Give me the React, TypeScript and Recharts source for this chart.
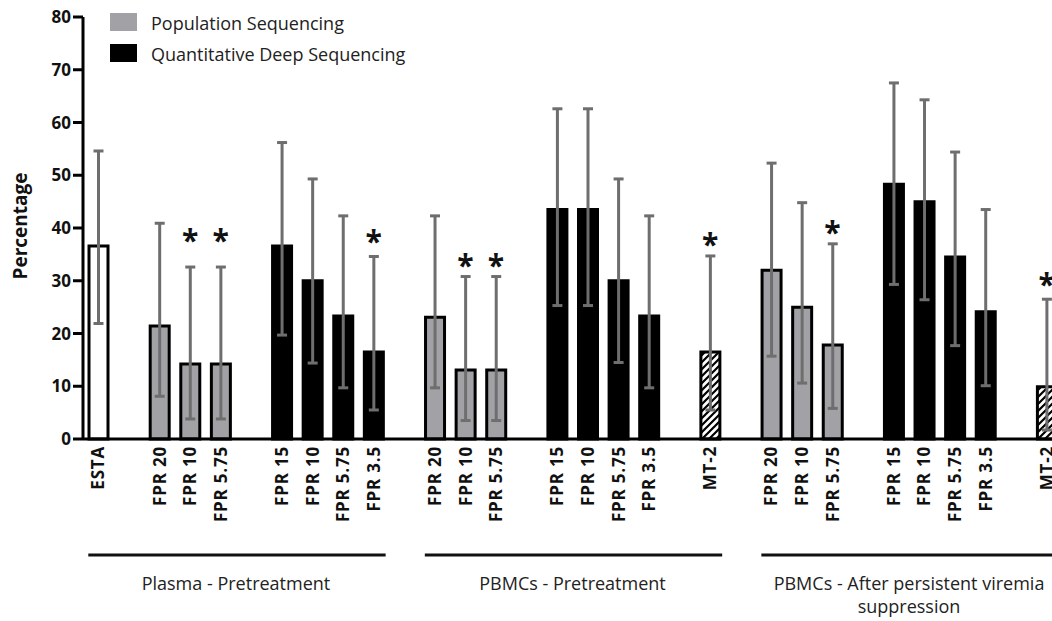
import React from 'react';
import { ComposedChart, Bar, XAxis, YAxis, ErrorBar, Cell, Scatter, Legend } from 'recharts';

// ---- data ----
const labels = [
  'ESTA', '',
  'FPR 20', 'FPR 10', 'FPR 5.75', '',
  'FPR 15', 'FPR 10', 'FPR 5.75', 'FPR 3.5', '',
  'FPR 20', 'FPR 10', 'FPR 5.75', '',
  'FPR 15', 'FPR 10', 'FPR 5.75', 'FPR 3.5', '',
  'MT-2', '',
  'FPR 20', 'FPR 10', 'FPR 5.75', '',
  'FPR 15', 'FPR 10', 'FPR 5.75', 'FPR 3.5', '',
  'MT-2',
];
const kinds = [
  'esta', null,
  'pop', 'pop', 'pop', null,
  'deep', 'deep', 'deep', 'deep', null,
  'pop', 'pop', 'pop', null,
  'deep', 'deep', 'deep', 'deep', null,
  'mt2', null,
  'pop', 'pop', 'pop', null,
  'deep', 'deep', 'deep', 'deep', null,
  'mt2',
];
const values = [
  36.6, null,
  21.4, 14.2, 14.2, null,
  36.6, 30.0, 23.3, 16.5, null,
  23.1, 13.1, 13.1, null,
  43.5, 43.5, 30.0, 23.3, null,
  16.5, null,
  32.0, 25.0, 17.8, null,
  48.3, 45.0, 34.5, 24.1, null,
  9.9,
];
const errHigh = [
  54.6, null,
  40.9, 32.6, 32.6, null,
  56.2, 49.3, 42.3, 34.6, null,
  42.3, 30.8, 30.8, null,
  62.6, 62.6, 49.3, 42.3, null,
  34.7, null,
  52.3, 44.8, 37.0, null,
  67.5, 64.3, 54.4, 43.5, null,
  26.5,
];
const errLow = [
  21.9, null,
  8.1, 3.8, 3.8, null,
  19.7, 14.4, 9.7, 5.5, null,
  9.7, 3.5, 3.5, null,
  25.3, 25.3, 14.5, 9.7, null,
  5.5, null,
  15.7, 10.6, 5.8, null,
  29.3, 26.4, 17.7, 10.1, null,
  1.7,
];
const stars = [
  null, null,
  null, 38.9, 38.9, null,
  null, null, null, 38.7, null,
  null, 34.2, 34.2, null,
  null, null, null, null, null,
  38.1, null,
  null, null, 40.4, null,
  null, null, null, null, null,
  30.5,
];
const yTicks = [0, 10, 20, 30, 40, 50, 60, 70, 80];
const groups = [
  { start: 0, end: 9, lines: ['Plasma - Pretreatment'] },
  { start: 11, end: 20, lines: ['PBMCs - Pretreatment'] },
  { start: 22, end: 31, lines: ['PBMCs - After persistent viremia', 'suppression'] },
];
const legendItems = [
  { label: 'Population Sequencing', color: '#a2a2a6' },
  { label: 'Quantitative Deep Sequencing', color: '#000000' },
];
const fills: Record<string, string> = {
  esta: '#ffffff',
  pop: '#a2a2a6',
  deep: '#000000',
  mt2: 'url(#hatch)',
};

const data = labels.map((label, i) => ({
  key: 'k' + i,
  label,
  kind: kinds[i],
  value: values[i],
  err: values[i] == null ? null : [values[i]! - errLow[i]!, errHigh[i]! - values[i]!],
  star: stars[i],
}));

// ---- layout ----
const CHART_W = 1064;
const CHART_H = 621;
const MARGIN = { top: 17, right: 2, bottom: 0, left: 0 };
const Y_W = 83;
const X_H = 182;
const SLOT = (CHART_W - MARGIN.left - MARGIN.right - Y_W) / labels.length;
const FONT = "'Open Sans', 'DejaVu Sans', sans-serif";

const XTick = (props: any) => {
  const { x, y, payload } = props;
  const idx = payload.index;
  const d = data[idx];
  const g = groups.find((gr) => gr.start === idx);
  return (
    <g>
      {d && d.label ? (
        <text
          transform={`translate(${x},${y + 7}) rotate(-90)`}
          textAnchor="end"
          dy="0.36em"
          fontSize={17}
          fontWeight={700}
          letterSpacing={0.8}
          fontFamily={FONT}
          fill="#111"
        >
          {d.label}
        </text>
      ) : null}
      {g ? (
        <g>
          <line
            x1={x - 10}
            x2={x + (g.end - g.start) * SLOT + 12}
            y1={y + 116}
            y2={y + 116}
            stroke="#111"
            strokeWidth={3}
          />
          {g.lines.map((ln, j) => (
            <text
              key={j}
              x={x + ((g.end - g.start) * SLOT) / 2}
              y={y + 151 + j * 23}
              textAnchor="middle"
              fontSize={18}
              fontFamily={FONT}
              fill="#222"
            >
              {ln}
            </text>
          ))}
        </g>
      ) : null}
    </g>
  );
};

const renderYLabel = (props: any) => {
  const vb = props.viewBox || { x: 0, y: MARGIN.top, width: Y_W, height: 422 };
  const cx = vb.x + 27;
  const cy = vb.y + vb.height / 2 - 2;
  return (
    <text
      transform={`translate(${cx},${cy}) rotate(-90)`}
      textAnchor="middle"
      fontSize={19}
      fontWeight={700}
      fontFamily={FONT}
      fill="#111"
    >
      Percentage
    </text>
  );
};

const renderStar = (props: any) => {
  const { cx, cy, payload } = props;
  if (!payload || payload.star == null || cy == null || isNaN(cy)) return <g />;
  return (
    <text x={cx} y={cy + 17} textAnchor="middle" fontSize={30} fontWeight={700} fontFamily={FONT} fill="#111">
      *
    </text>
  );
};

const renderLegend = () => (
  <svg width={330} height={70}>
    {legendItems.map((it, i) => (
      <g key={i}>
        <rect x={10} y={13 + i * 31} width={27} height={18} fill={it.color} />
        <text x={51} y={30 + i * 31} fontSize={18} fontFamily={FONT} fill="#222">
          {it.label}
        </text>
      </g>
    ))}
  </svg>
);

export default function App() {
  return (
    <div
      style={{
        position: 'absolute',
        left: 0,
        top: 0,
        width: 1052,
        height: 621,
        overflow: 'hidden',
        background: '#fff',
      }}
    >
      <ComposedChart width={CHART_W} height={CHART_H} data={data} margin={MARGIN}>
        <defs>
          <pattern id="hatch" patternUnits="userSpaceOnUse" width={7} height={7}>
            <rect width={7} height={7} fill="#fff" />
            <path d="M0,7 L7,0 M-1,1 L1,-1 M6,8 L8,6" stroke="#000" strokeWidth={2.2} />
          </pattern>
        </defs>
        <XAxis
          dataKey="key"
          interval={0}
          height={X_H}
          tickLine={false}
          tickSize={0}
          tickMargin={0}
          axisLine={{ stroke: '#000', strokeWidth: 3 }}
          tick={<XTick />}
        />
        <YAxis
          width={Y_W}
          domain={[0, 80]}
          ticks={yTicks}
          interval={0}
          tickSize={10}
          tickMargin={2}
          axisLine={{ stroke: '#000', strokeWidth: 3 }}
          tickLine={{ stroke: '#000', strokeWidth: 3 }}
          tick={{ fill: '#111', fontSize: 17, fontWeight: 700, fontFamily: FONT }}
          label={renderYLabel}
        />
        <Legend
          layout="horizontal"
          align="center"
          verticalAlign="middle"
          content={renderLegend}
          wrapperStyle={{ top: 0, left: 100, width: 330, height: 70 }}
        />
        <Bar dataKey="value" barSize={19} stroke="#000" strokeWidth={3} isAnimationActive={false}>
          {data.map((d, i) => (
            <Cell key={i} fill={d.kind ? fills[d.kind] : '#fff'} />
          ))}
          <ErrorBar dataKey="err" direction="y" width={5} stroke="#6e6e6e" strokeWidth={3} />
        </Bar>
        <Scatter dataKey="star" shape={renderStar} isAnimationActive={false} />
      </ComposedChart>
    </div>
  );
}
